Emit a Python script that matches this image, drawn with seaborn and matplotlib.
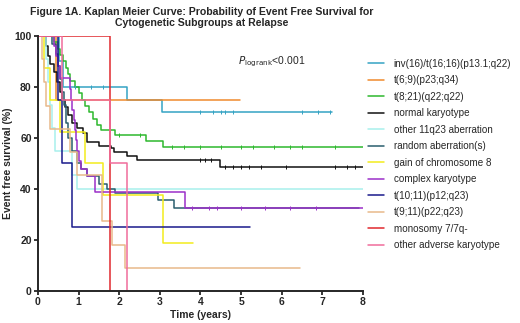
import numpy as np
import pandas as pd
import matplotlib
matplotlib.use("Agg")
import matplotlib.pyplot as plt
from matplotlib.lines import Line2D
import seaborn as sns

# Kaplan-Meier step curves (time in years, survival in %)
groups = ["inv(16)/t(16;16)(p13.1;q22)", "t(6;9)(p23;q34)", "t(8;21)(q22;q22)",
          "normal karyotype", "other 11q23 aberration", "random aberration(s)",
          "gain of chromosome 8", "complex karyotype", "t(10;11)(p12;q23)",
          "t(9;11)(p22;q23)", "monosomy 7/7q-", "other adverse karyotype"]
colors = ["#34a3c3", "#f08a2c", "#2db82d", "#111111", "#a8f0ec", "#2a5e6e",
          "#f2ec1c", "#9b2fc9", "#1a1a8c", "#e8b98a", "#e0282e", "#f06c9b"]

inv16_t = [0, 0.52, 0.62, 2.19, 3.06, 7.24]
inv16_s = [100, 90, 80, 75, 70, 70]
t69_t = [0, 0.45, 4.97]
t69_s = [100, 75, 75]
t821_t = [0, 0.4, 0.5, 0.55, 0.62, 0.68, 0.75, 0.8, 0.92, 1.0, 1.08, 1.15, 1.25,
          1.35, 1.45, 1.55, 1.9, 2.65, 3.07, 8.0]
t821_s = [100, 97.5, 95, 92.5, 90, 87.5, 85, 82.5, 80, 77.5, 75, 72.5, 70,
          67.5, 65, 63, 61, 58.8, 56.5, 56.5]
normal_t = [0, 0.2, 0.25, 0.3, 0.4, 0.48, 0.55, 0.6, 0.66, 0.75, 0.85, 0.95, 1.1,
            1.2, 1.5, 1.8, 1.88, 2.2, 2.45, 4.48, 8.0]
normal_s = [100, 96, 92, 89, 86, 82, 78, 75, 72, 69, 66, 64, 62,
            58.4, 57, 56, 54.5, 53, 51.4, 48.6, 48.6]
q23_t = [0, 0.2, 0.25, 0.3, 0.35, 0.42, 0.85, 0.96, 8.0]
q23_s = [100, 91, 82, 73, 64, 55, 45.5, 40, 40]
random_t = [0, 0.35, 0.45, 0.5, 0.55, 0.6, 0.65, 0.7, 0.75, 0.85, 0.95, 1.05, 1.2,
            1.5, 1.7, 1.9, 2.95, 3.35, 7.9]
random_s = [100, 97, 93, 88, 83, 78, 73, 66, 60, 55, 50, 48, 45,
            42, 40, 38.5, 35.7, 32.6, 32.6]
gain8_t = [0, 0.15, 0.3, 0.55, 1.16, 1.6, 3.08, 3.82]
gain8_s = [100, 87.5, 75, 62.5, 50, 37.5, 18.75, 18.75]
complex_t = [0, 0.4, 0.45, 0.5, 0.54, 0.79, 0.82, 0.85, 0.88, 0.9, 0.93, 0.96,
             1.0, 1.05, 1.2, 1.4, 3.62, 8.0]
complex_s = [100, 96, 92, 88, 83.5, 79, 75, 71, 67, 63, 59, 55,
             51, 48, 45, 38.8, 32.5, 32.5]
t1011_t = [0, 0.5, 0.59, 0.83, 5.22]
t1011_s = [100, 75, 50, 25, 25]
t911_t = [0, 0.1, 0.15, 0.2, 0.3, 0.8, 0.95, 1.57, 1.82, 2.14, 6.45]
t911_s = [100, 90.9, 81.8, 72.7, 63.6, 54.5, 45.5, 27.3, 18.2, 9.1, 9.1]
mono7_t = [0, 1.78]
mono7_s = [100, 0]
adverse_t = [0, 0.6, 1.78, 2.19]
adverse_s = [100, 75, 50, 0]

# censoring ticks (times only)
inv16_c = [0.9, 1.3, 1.6, 4.0, 4.3, 4.5, 4.6, 4.8, 6.5, 6.9, 7.2]
t821_c = [2.0, 2.5, 3.3, 3.6, 4.0, 4.5, 5.0, 5.3, 5.8, 6.2, 6.5, 7.3]
normal_c = [4.0, 4.1, 4.25, 4.6, 4.8, 5.0, 5.2, 5.5, 6.1, 7.3, 7.6, 7.8]
complex_c = [3.8, 4.2, 4.4, 5.0, 5.6, 6.2, 6.85]

curves = [(inv16_t, inv16_s, inv16_c), (t69_t, t69_s, []), (t821_t, t821_s, t821_c),
          (normal_t, normal_s, normal_c), (q23_t, q23_s, []), (random_t, random_s, []),
          (gain8_t, gain8_s, []), (complex_t, complex_s, complex_c), (t1011_t, t1011_s, []),
          (t911_t, t911_s, []), (mono7_t, mono7_s, []), (adverse_t, adverse_s, [])]

rows = []
for g, (t, s, c) in zip(groups, curves):
    for ti, si in zip(t, s):
        rows.append({"group": g, "time": ti, "surv": si})
df = pd.DataFrame(rows)

sns.set_style("ticks")
plt.rcParams["font.family"] = ["Liberation Sans", "DejaVu Sans"]

fig = plt.figure(figsize=(5.2, 3.23), dpi=100)
ax = fig.add_axes([0.073, 0.099, 0.625, 0.79])

sns.lineplot(data=df, x="time", y="surv", hue="group", hue_order=groups,
             palette=colors, estimator=None, sort=False, drawstyle="steps-post",
             linewidth=1.1, legend=False, ax=ax)

for (t, s, c), col in zip(curves, colors):
    if c:
        idx = np.searchsorted(t, c, side="right") - 1
        ax.plot(c, np.array(s)[idx], "|", color=col, ms=2.2, mew=0.7)

ax.set_xlim(0, 8)
ax.set_ylim(0, 100)
ax.set_xticks(range(0, 9))
ax.set_yticks(range(0, 101, 20))
ax.set_xlabel("Time (years)", fontsize=7.5, fontweight="bold", labelpad=2)
ax.set_ylabel("Event free survival (%)", fontsize=7.5, fontweight="bold", labelpad=1)
ax.tick_params(labelsize=7.5, width=1.3, length=3, pad=1.5)
for lab in ax.get_xticklabels() + ax.get_yticklabels():
    lab.set_fontweight("bold")
sns.despine(ax=ax)
for sp in ["left", "bottom"]:
    ax.spines[sp].set_linewidth(1.4)
ax.margins(0)

ax.text(5.75, 90, r"$\mathit{P}_{\mathrm{logrank}}$<0.001", fontsize=7.5,
        ha="center", va="center")

fig.text(0.388, 0.978, "Figure 1A. Kaplan Meier Curve: Probability of Event Free Survival for\n"
         "Cytogenetic Subgroups at Relapse", ha="center", va="top",
         fontsize=7.6, fontweight="bold", linespacing=1.1)

handles = [Line2D([], [], color=c, lw=1.1) for c in colors]
fig.legend(handles, groups, loc="upper left", bbox_to_anchor=(0.708, 0.818),
           frameon=False, fontsize=7.1, handlelength=1.6, handletextpad=1.0,
           labelspacing=0.66, borderpad=0, borderaxespad=0)

fig.savefig("out.png", dpi=100)
